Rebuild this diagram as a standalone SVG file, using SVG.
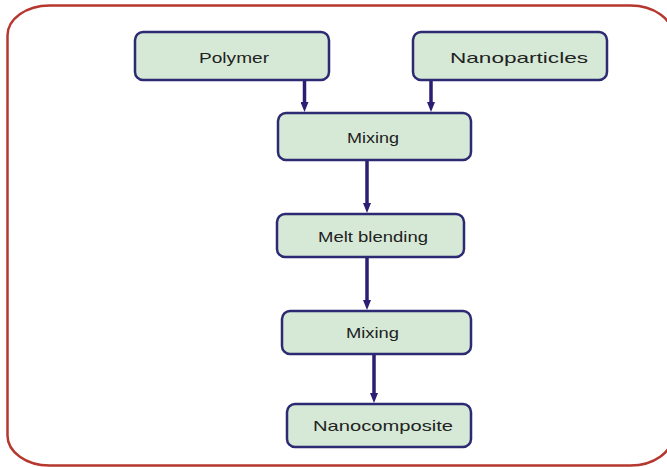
<svg xmlns="http://www.w3.org/2000/svg" width="667" height="467" viewBox="0 0 667 467">
<style>
.frame{fill:#ffffff;stroke:#b5372e;stroke-width:2.5}
.box{fill:#d6e9d6;stroke:#2b2a72;stroke-width:2.5}
.lbl{font-family:"Liberation Sans",Arial,sans-serif;font-size:15px;fill:#222222;text-anchor:middle}
.conn{stroke:#2a1f72;stroke-width:3.5;fill:none;marker-end:url(#ah)}
</style>
<defs>
<marker id="ah" markerWidth="10" markerHeight="8" refX="1" refY="4" orient="auto" markerUnits="userSpaceOnUse" viewBox="0 0 10 8">
<path d="M0,0 L10,4 L0,8 Z" fill="#2a1f72"/>
</marker>
</defs>
<rect width="667" height="467" fill="#ffffff"/>
<rect class="frame" x="7.5" y="5.5" width="665" height="460" rx="42" ry="30"/>
<g id="connectors">
<line class="conn" x1="304.5" y1="81" x2="304.5" y2="103"/>
<line class="conn" x1="431" y1="81" x2="431" y2="103"/>
<line class="conn" x1="367" y1="161" x2="367" y2="204"/>
<line class="conn" x1="367" y1="258" x2="367" y2="301"/>
<line class="conn" x1="374" y1="355" x2="374" y2="394"/>
</g>
<g id="polymer">
<rect class="box" x="135" y="32" width="194" height="48" rx="8"/>
<text class="lbl" x="234" y="63" textLength="70" lengthAdjust="spacingAndGlyphs">Polymer</text>
</g>
<g id="nanoparticles">
<rect class="box" x="413" y="32" width="194" height="48" rx="8"/>
<text class="lbl" x="519" y="63" textLength="138" lengthAdjust="spacingAndGlyphs">Nanoparticles</text>
</g>
<g id="mixing1">
<rect class="box" x="278" y="113" width="193" height="47" rx="8"/>
<text class="lbl" x="373" y="143" textLength="52" lengthAdjust="spacingAndGlyphs">Mixing</text>
</g>
<g id="melt-blending">
<rect class="box" x="277" y="214" width="187" height="43" rx="8"/>
<text class="lbl" x="373" y="242" textLength="110" lengthAdjust="spacingAndGlyphs">Melt blending</text>
</g>
<g id="mixing2">
<rect class="box" x="282" y="311" width="189" height="43" rx="8"/>
<text class="lbl" x="372.5" y="338" textLength="53" lengthAdjust="spacingAndGlyphs">Mixing</text>
</g>
<g id="nanocomposite">
<rect class="box" x="287" y="404" width="184" height="43" rx="8"/>
<text class="lbl" x="383" y="431" textLength="140" lengthAdjust="spacingAndGlyphs">Nanocomposite</text>
</g>
</svg>
